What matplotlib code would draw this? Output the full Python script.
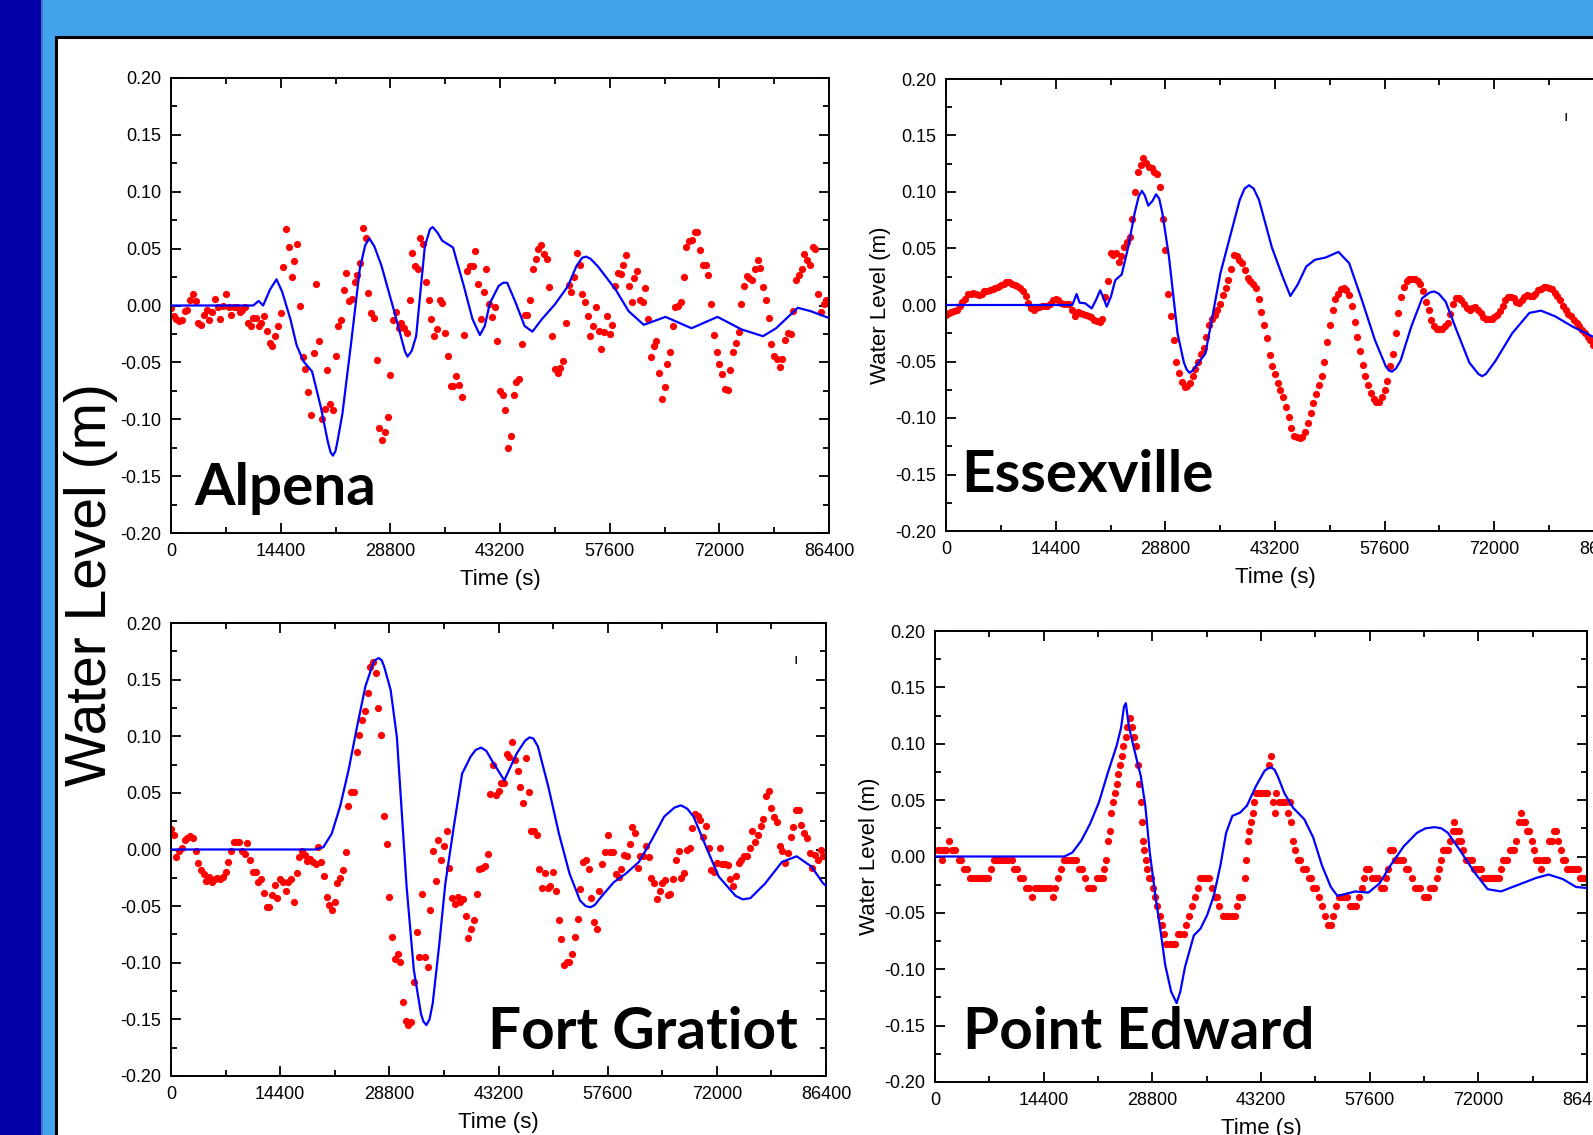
import numpy as np
import matplotlib
matplotlib.use('Agg')
import matplotlib.pyplot as plt
from matplotlib.patches import Rectangle
from matplotlib.ticker import MultipleLocator, FormatStrFormatter

W, H = 1593, 1135

# ---------------- data (water level in m, time in s) ----------------
# Alpena: observed every 6 min
alpena_obs = [
    -0.002, -0.009, -0.012, -0.014, -0.013, -0.005, -0.004, 0.005, 0.010, 0.004,
    -0.015, -0.017, -0.008, -0.004, -0.013, -0.006, 0.006, -0.001, -0.012, 0.000,
    0.010, -0.001, -0.008, -0.001, -0.001, -0.006, -0.004, -0.001, -0.015, -0.018,
    -0.011, -0.011, -0.018, -0.015, -0.009, -0.022, -0.033, -0.036, -0.027, -0.018,
    -0.007, 0.034, 0.067, 0.051, 0.025, 0.039, 0.054, 0.000, -0.045, -0.056,
    -0.076, -0.096, -0.042, 0.019, -0.031, -0.100, -0.091, -0.057, -0.087, -0.092,
    -0.044, -0.018, -0.013, 0.014, 0.029, 0.004, 0.006, 0.021, 0.027, 0.037,
    0.068, 0.059, 0.011, -0.007, -0.011, -0.048, -0.108, -0.118, -0.111, -0.098,
    -0.061, -0.013, -0.006, -0.020, -0.015, -0.020, -0.024, 0.005, 0.046, 0.035,
    0.032, 0.059, 0.054, 0.021, 0.005, -0.012, -0.027, -0.021, 0.005, 0.002,
    -0.024, -0.044, -0.071, -0.071, -0.062, -0.070, -0.080, -0.026, 0.030, 0.035,
    0.035, 0.048, 0.019, -0.012, 0.012, 0.032, 0.001, -0.010, -0.001, -0.031,
    -0.075, -0.079, -0.092, -0.125, -0.115, -0.079, -0.067, -0.065, -0.034, -0.008,
    -0.008, 0.005, 0.032, 0.041, 0.050, 0.053, 0.045, 0.041, 0.016, -0.027,
    -0.056, -0.059, -0.055, -0.049, -0.015, 0.018, 0.012, 0.025, 0.046, 0.036,
    0.010, 0.003, -0.009, -0.027, -0.018, -0.001, -0.022, -0.038, -0.023, -0.009,
    -0.025, -0.017, 0.017, 0.029, 0.028, 0.036, 0.044, 0.017, 0.003, 0.024,
    0.030, 0.005, 0.003, 0.015, -0.012, -0.045, -0.036, -0.031, -0.059, -0.082,
    -0.072, -0.051, -0.041, -0.018, -0.001, 0.000, 0.003, 0.025, 0.051, 0.057,
    0.058, 0.065, 0.065, 0.049, 0.036, 0.036, 0.027, 0.001, -0.026, -0.041,
    -0.051, -0.060, -0.073, -0.074, -0.057, -0.041, -0.033, -0.023, 0.001, 0.017,
    0.026, 0.024, 0.022, 0.032, 0.040, 0.033, 0.016, 0.005, -0.011, -0.034,
    -0.044, -0.047, -0.054, -0.047, -0.030, -0.024, -0.025, -0.005, 0.022, 0.027,
    0.032, 0.045, 0.040, 0.036, 0.051, 0.050, 0.010, -0.006, 0.001, 0.005,
]
alpena_mod_t = [0, 10800, 11500, 12100, 13000, 13855, 14600, 15677, 16500, 17385,
                18525, 19663, 20600, 20950, 21257, 21600, 21900, 22510, 23650, 24787,
                25500, 26040, 26700, 27635, 29343, 30300, 30700, 31051, 31600, 32190,
                33330, 34000, 34354, 35000, 35606, 37030, 38453, 39592, 40560, 41200,
                41870, 43008, 43600, 44147, 45286, 46425, 47450, 48700, 50410, 52120,
                53260, 54000, 54510, 55100, 56100, 58380, 60090, 62080, 64930, 68350,
                71760, 74900, 77740, 79450, 82300, 84000, 86400]
alpena_mod = [0.0, 0.0, 0.004, 0.0, 0.014, 0.023, 0.012, -0.012, -0.035, -0.049,
              -0.058, -0.089, -0.120, -0.129, -0.132, -0.128, -0.118, -0.095, -0.033, 0.032,
              0.053, 0.059, 0.052, 0.035, -0.006, -0.030, -0.040, -0.045, -0.040, -0.027,
              0.052, 0.067, 0.069, 0.064, 0.057, 0.051, 0.017, -0.012, -0.026, -0.018,
              0.002, 0.017, 0.020, 0.020, 0.002, -0.018, -0.023, -0.012, 0.001, 0.017,
              0.035, 0.042, 0.043, 0.041, 0.034, 0.014, -0.005, -0.017, -0.010, -0.020,
              -0.010, -0.021, -0.027, -0.020, -0.002, -0.005, -0.011]

# Essexville: observed every 6 min
essex_obs = [
    -0.009, -0.007, -0.006, -0.005, -0.004, -0.001, 0.003, 0.005, 0.010, 0.010,
    0.011, 0.010, 0.009, 0.010, 0.012, 0.012, 0.013, 0.014, 0.015, 0.016,
    0.018, 0.019, 0.020, 0.020, 0.019, 0.018, 0.017, 0.015, 0.012, 0.008,
    0.002, -0.003, -0.004, -0.003, -0.002, -0.001, -0.001, -0.001, 0.001, 0.004,
    0.005, 0.004, 0.002, 0.001, 0.001, 0.001, -0.004, -0.010, -0.006, -0.007,
    -0.008, -0.009, -0.010, -0.011, -0.013, -0.014, -0.015, -0.012, 0.007, 0.021,
    0.046, 0.044, 0.046, 0.038, 0.043, 0.051, 0.056, 0.060, 0.076, 0.100,
    0.118, 0.124, 0.130, 0.126, 0.122, 0.121, 0.118, 0.116, 0.104, 0.076,
    0.049, 0.010, -0.010, -0.031, -0.050, -0.060, -0.068, -0.073, -0.072, -0.069,
    -0.063, -0.057, -0.050, -0.043, -0.038, -0.028, -0.018, -0.012, -0.009, -0.004,
    0.001, 0.009, 0.015, 0.022, 0.032, 0.044, 0.043, 0.040, 0.037, 0.031,
    0.024, 0.021, 0.019, 0.015, 0.005, -0.006, -0.018, -0.029, -0.044, -0.054,
    -0.061, -0.069, -0.075, -0.081, -0.090, -0.099, -0.109, -0.116, -0.117, -0.118,
    -0.117, -0.112, -0.104, -0.096, -0.087, -0.079, -0.071, -0.063, -0.050, -0.033,
    -0.018, -0.004, 0.005, 0.010, 0.014, 0.015, 0.013, 0.009, -0.001, -0.015,
    -0.028, -0.041, -0.053, -0.063, -0.071, -0.078, -0.083, -0.086, -0.086, -0.081,
    -0.075, -0.067, -0.054, -0.043, -0.025, -0.007, 0.007, 0.016, 0.021, 0.023,
    0.023, 0.023, 0.021, 0.019, 0.012, 0.003, -0.004, -0.013, -0.019, -0.021,
    -0.021, -0.021, -0.019, -0.016, -0.008, 0.001, 0.006, 0.006, 0.004, 0.001,
    -0.003, -0.004, -0.003, -0.002, -0.004, -0.007, -0.011, -0.012, -0.012, -0.012,
    -0.011, -0.009, -0.005, -0.001, 0.004, 0.007, 0.007, 0.006, 0.003, 0.002,
    0.004, 0.007, 0.009, 0.008, 0.008, 0.010, 0.013, 0.014, 0.016, 0.016,
    0.015, 0.014, 0.011, 0.008, 0.004, -0.001, -0.004, -0.008, -0.010, -0.013,
    -0.016, -0.019, -0.022, -0.025, -0.028, -0.031, -0.035, -0.038, -0.041, -0.044,
]
essex_mod_t = [0, 16590, 17150, 17548, 18280, 19126, 19690, 20250, 20700, 21100,
               21660, 22225, 23070, 23915, 24760, 25300, 25720, 26100, 26565, 27100,
               27580, 28000, 28420, 29270, 30400, 31240, 31600, 31970, 32400, 32930,
               34060, 34900, 36030, 37160, 38570, 39200, 39800, 40400, 41100, 42790,
               44200, 45215, 46175, 47300, 48430, 49840, 51530, 52940, 54630, 56320,
               57730, 58150, 58570, 59100, 59700, 61100, 62520, 63500, 64090, 64700,
               65610, 67020, 68720, 69900, 70400, 70900, 72100, 74350, 76600, 78120,
               79980, 82240, 84950, 86400]
essex_mod = [0.0, 0.0, 0.0097, 0.002, 0.0015, -0.003, 0.0044, 0.013, 0.006, -0.0015,
             0.0074, 0.022, 0.027, 0.051, 0.081, 0.096, 0.101, 0.097, 0.088, 0.092,
             0.098, 0.094, 0.081, 0.043, -0.025, -0.051, -0.057, -0.060, -0.058, -0.053,
             -0.043, -0.013, 0.028, 0.057, 0.093, 0.103, 0.106, 0.103, 0.093, 0.051,
             0.025, 0.008, 0.018, 0.034, 0.040, 0.042, 0.047, 0.037, 0.004, -0.031,
             -0.054, -0.058, -0.059, -0.056, -0.049, -0.019, 0.006, 0.011, 0.012, 0.010,
             0.003, -0.022, -0.051, -0.061, -0.063, -0.061, -0.050, -0.025, -0.007, -0.005,
             -0.010, -0.019, -0.028, -0.033]

# Fort Gratiot: observed every 6 min
gratiot_obs = [
    0.018, 0.013, -0.007, -0.001, 0.001, 0.008, 0.010, 0.012, 0.010, -0.001,
    -0.012, -0.018, -0.022, -0.028, -0.024, -0.029, -0.026, -0.025, -0.026, -0.024,
    -0.020, -0.011, -0.001, 0.007, 0.007, 0.007, -0.001, -0.004, 0.006, -0.009,
    -0.020, -0.020, -0.029, -0.026, -0.038, -0.051, -0.051, -0.040, -0.031, -0.043,
    -0.026, -0.029, -0.037, -0.029, -0.026, -0.046, -0.021, -0.007, -0.001, -0.005,
    -0.010, -0.008, -0.011, -0.013, 0.002, -0.011, -0.023, -0.042, -0.049, -0.053,
    -0.046, -0.030, -0.025, -0.018, -0.002, 0.038, 0.051, 0.051, 0.086, 0.101,
    0.114, 0.122, 0.138, 0.161, 0.166, 0.156, 0.125, 0.101, 0.030, 0.005,
    -0.042, -0.077, -0.097, -0.092, -0.099, -0.135, -0.151, -0.155, -0.152, -0.117,
    -0.073, -0.095, -0.039, -0.095, -0.104, -0.053, -0.001, -0.028, 0.008, -0.009,
    0.003, 0.016, -0.016, -0.043, -0.048, -0.042, -0.046, -0.044, -0.059, -0.078,
    -0.070, -0.062, -0.039, -0.017, -0.016, -0.015, -0.004, 0.049, 0.075, 0.048,
    0.052, 0.059, 0.059, 0.084, 0.082, 0.095, 0.079, 0.069, 0.055, 0.041,
    0.081, 0.051, 0.016, 0.016, 0.013, -0.017, -0.034, -0.021, -0.034, -0.032,
    -0.020, -0.037, -0.062, -0.079, -0.102, -0.099, -0.099, -0.092, -0.077, -0.061,
    -0.035, -0.011, -0.009, -0.017, -0.043, -0.064, -0.070, -0.037, -0.013, -0.002,
    0.013, -0.002, -0.002, -0.022, -0.024, -0.017, -0.005, -0.006, 0.005, 0.020,
    0.015, -0.016, -0.006, -0.006, 0.003, -0.007, -0.025, -0.030, -0.044, -0.037,
    -0.030, -0.027, -0.040, -0.039, -0.026, -0.009, -0.001, -0.025, -0.021, 0.000,
    0.001, 0.019, 0.031, 0.030, 0.026, 0.011, 0.021, 0.001, -0.018, -0.020,
    -0.012, 0.001, -0.013, -0.013, -0.014, -0.026, -0.032, -0.023, -0.012, -0.009,
    -0.006, -0.006, 0.001, 0.016, 0.007, 0.013, 0.021, 0.027, 0.047, 0.052,
    0.037, 0.029, 0.024, 0.003, -0.001, -0.012, -0.003, 0.011, 0.020, 0.035,
    0.035, 0.022, 0.015, 0.010, -0.003, -0.016, -0.005, -0.009, 0.000, -0.006,
]
gratiot_mod_t = [0, 18980, 20090, 21200, 22310, 23420, 24530, 25640, 26750, 27100,
                 27420, 27800, 28140, 28970, 29800, 30360, 31080, 32025, 32970, 33300,
                 33690, 34100, 34520, 35350, 36190, 37300, 38400, 39520, 40200, 40900,
                 41600, 42290, 43960, 45620, 46700, 47290, 47800, 48400, 49790, 51170,
                 52560, 53950, 54700, 55330, 55900, 56720, 58390, 60050, 61720, 63380,
                 65050, 66400, 67270, 68100, 68930, 70600, 72260, 74480, 75400, 76420,
                 78370, 80590, 82530, 84470, 86030, 86400]
gratiot_mod = [0.0, 0.0, 0.002, 0.014, 0.038, 0.070, 0.108, 0.144, 0.166, 0.168,
               0.169, 0.167, 0.161, 0.141, 0.099, 0.041, -0.033, -0.106, -0.145, -0.152,
               -0.155, -0.150, -0.136, -0.086, -0.030, 0.020, 0.067, 0.082, 0.088, 0.090,
               0.087, 0.079, 0.061, 0.085, 0.096, 0.099, 0.098, 0.091, 0.055, 0.014,
               -0.021, -0.045, -0.050, -0.051, -0.049, -0.042, -0.029, -0.021, -0.011, 0.008,
               0.029, 0.037, 0.039, 0.036, 0.029, 0.002, -0.024, -0.041, -0.044, -0.043,
               -0.030, -0.011, -0.006, -0.015, -0.030, -0.032]

# Point Edward: observation times in minutes, quantized levels
edward_obs_min = [
    6, 13, 16, 20, 25, 32, 38, 45, 52, 58,
    64, 71, 77, 84, 91, 97, 103, 110, 118, 123,
    130, 136, 142, 149, 155, 162, 169, 175, 181, 188,
    194, 201, 208, 214, 221, 227, 233, 240, 247, 253,
    260, 266, 272, 279, 286, 292, 299, 305, 311, 318,
    325, 331, 338, 344, 350, 357, 364, 370, 374, 377,
    381, 386, 389, 393, 397, 401, 405, 409, 413, 416,
    421, 425, 430, 436, 440, 445, 448, 451, 454, 457,
    460, 462, 465, 469, 473, 477, 481, 486, 491, 496,
    501, 505, 511, 518, 525, 530, 536, 542, 549, 555,
    562, 567, 574, 580, 586, 592, 599, 606, 611, 618,
    623, 628, 635, 642, 648, 655, 662, 666, 672, 679,
    684, 687, 691, 694, 698, 702, 705, 709, 713, 718,
    723, 728, 733, 738, 742, 747, 750, 754, 760, 767,
    774, 780, 783, 786, 791, 796, 801, 806, 813, 819,
    825, 830, 835, 842, 848, 855, 862, 867, 874, 879,
    886, 892, 899, 903, 910, 916, 923, 930, 936, 943,
    947, 952, 959, 965, 972, 979, 984, 991, 996, 1001,
    1006, 1011, 1016, 1021, 1027, 1033, 1040, 1045, 1053, 1060,
    1066, 1072, 1079, 1084, 1089, 1094, 1099, 1103, 1108, 1113,
    1118, 1123, 1128, 1133, 1138, 1143, 1147, 1150, 1154, 1157,
    1162, 1167, 1172, 1177, 1182, 1186, 1191, 1196, 1201, 1206,
    1211, 1216, 1221, 1225, 1230, 1235, 1240, 1245, 1250, 1255,
    1260, 1264, 1269, 1274, 1279, 1284, 1289, 1294, 1299, 1304,
    1308, 1313, 1318, 1323, 1328, 1333, 1338, 1343, 1347, 1352,
    1357, 1362, 1367, 1372, 1377, 1382, 1386, 1391, 1396, 1401,
    1406, 1411, 1416, 1421, 1425, 1430, 1435,
]
edward_obs = [
    0.006, 0.006, -0.003, 0.006, 0.006, 0.014, 0.006, 0.006, -0.003, -0.003,
    -0.011, -0.011, -0.019, -0.019, -0.019, -0.019, -0.019, -0.019, -0.019, -0.011,
    -0.003, -0.003, -0.003, -0.003, -0.003, -0.003, -0.003, -0.011, -0.011, -0.019,
    -0.019, -0.028, -0.028, -0.036, -0.028, -0.028, -0.028, -0.028, -0.028, -0.028,
    -0.036, -0.028, -0.019, -0.011, -0.003, -0.003, -0.003, -0.003, -0.003, -0.011,
    -0.011, -0.019, -0.028, -0.028, -0.028, -0.019, -0.019, -0.019, -0.011, -0.003,
    0.014, 0.023, 0.039, 0.048, 0.056, 0.064, 0.073, 0.081, 0.089, 0.098,
    0.106, 0.115, 0.123, 0.115, 0.106, 0.098, 0.081, 0.064, 0.048, 0.031,
    0.014, 0.006, -0.003, -0.011, -0.019, -0.019, -0.028, -0.036, -0.044, -0.053,
    -0.061, -0.069, -0.078, -0.078, -0.078, -0.078, -0.069, -0.069, -0.069, -0.061,
    -0.053, -0.044, -0.036, -0.028, -0.019, -0.019, -0.019, -0.019, -0.028, -0.036,
    -0.036, -0.044, -0.053, -0.053, -0.053, -0.053, -0.053, -0.044, -0.036, -0.036,
    -0.019, -0.003, 0.014, 0.023, 0.031, 0.039, 0.048, 0.056, 0.056, 0.056,
    0.056, 0.056, 0.056, 0.081, 0.089, 0.048, 0.039, 0.056, 0.048, 0.048,
    0.048, 0.039, 0.048, 0.031, 0.014, 0.006, -0.003, -0.003, -0.011, -0.011,
    -0.019, -0.019, -0.028, -0.028, -0.036, -0.044, -0.053, -0.061, -0.061, -0.053,
    -0.044, -0.036, -0.036, -0.036, -0.036, -0.044, -0.044, -0.044, -0.036, -0.028,
    -0.019, -0.011, -0.011, -0.019, -0.019, -0.019, -0.028, -0.028, -0.019, -0.011,
    0.006, 0.006, -0.003, -0.003, -0.003, -0.003, -0.011, -0.011, -0.019, -0.028,
    -0.028, -0.028, -0.036, -0.036, -0.036, -0.028, -0.028, -0.028, -0.019, -0.011,
    -0.003, 0.006, 0.006, 0.006, 0.014, 0.023, 0.031, 0.023, 0.014, 0.023,
    0.014, 0.006, -0.003, -0.003, -0.003, -0.003, -0.011, -0.011, -0.011, -0.011,
    -0.019, -0.019, -0.019, -0.019, -0.019, -0.019, -0.019, -0.019, -0.011, -0.003,
    -0.003, -0.003, 0.006, 0.006, 0.006, 0.014, 0.031, 0.039, 0.031, 0.031,
    0.023, 0.023, 0.014, 0.006, -0.003, -0.003, -0.011, -0.003, -0.003, -0.003,
    0.014, 0.014, 0.023, 0.023, 0.014, 0.006, -0.003, -0.003, -0.011, -0.011,
    -0.011, -0.011, -0.011, -0.011, -0.019, -0.019, -0.019,
]
edward_mod_t = [0, 17150, 18200, 19380, 20550, 21720, 22890, 24060, 24650, 25050,
                25290, 25700, 26400, 27280, 27870, 28450, 29210, 29910, 30500, 31300,
                32020, 32500, 33130, 34300, 35180, 36060, 36940, 37820, 38580, 39400,
                40450, 41330, 42500, 43670, 44100, 44550, 45000, 45430, 46310, 47480,
                48940, 50110, 51280, 52450, 53330, 54500, 55670, 57430, 58890, 60350,
                62110, 63870, 65000, 66210, 67100, 67960, 69720, 71480, 73230, 74990,
                77330, 79670, 81310, 83190, 84940, 86400]
edward_mod = [0.0, 0.0, 0.0035, 0.014, 0.029, 0.048, 0.074, 0.098, 0.114, 0.133,
              0.136, 0.115, 0.095, 0.071, 0.045, 0.004, -0.035, -0.067, -0.096, -0.120,
              -0.130, -0.120, -0.098, -0.070, -0.064, -0.052, -0.035, -0.008, 0.021, 0.036,
              0.039, 0.045, 0.062, 0.076, 0.078, 0.079, 0.077, 0.071, 0.056, 0.043,
              0.033, 0.017, -0.008, -0.027, -0.035, -0.033, -0.031, -0.032, -0.024, -0.008,
              0.009, 0.021, 0.025, 0.026, 0.025, 0.021, 0.004, -0.014, -0.029, -0.031,
              -0.025, -0.019, -0.016, -0.020, -0.027, -0.028]

SAMPLE = 360  # tide gauge interval, s

plt.rcParams['font.family'] = ['Liberation Sans', 'DejaVu Sans']
plt.rcParams['axes.unicode_minus'] = False

fig = plt.figure(figsize=(W / 100, H / 100), dpi=100)
fig.patch.set_facecolor('white')


def box(l, t, r, b):
    return [l / W, 1 - b / H, (r - l) / W, (b - t) / H]


def px_rect(l, t, r, b, **kw):
    fig.add_artist(Rectangle((l / W, 1 - b / H), (r - l) / W, (b - t) / H,
                             transform=fig.transFigure, **kw))


# slide background
px_rect(0, 0, 41, H, facecolor='#0400A8', edgecolor='none', zorder=-10)
px_rect(41, 0, 43, H, facecolor='#3A74C6', edgecolor='none', zorder=-10)
px_rect(43, 0, W, H, facecolor='#42A2EC', edgecolor='none', zorder=-10)
px_rect(56, 37, W + 20, H + 20, facecolor='white', edgecolor='black',
        linewidth=2.2, zorder=-9)

fig.text(91 / W, 1 - 585 / H, 'Water Level (m)', rotation=90, fontsize=41,
         ha='center', va='center')


def panel(pos, obs_t, obs_v, mod_t, mod_v, name, name_xy, ylabel=False):
    ax = fig.add_axes(box(*pos))
    ax.plot(obs_t, obs_v, 'o', color='#FF0000', markersize=5.2,
            markeredgewidth=0, zorder=2)
    ax.plot(mod_t, mod_v, '-', color='#0000FF', linewidth=1.6, zorder=3)
    ax.set_xlim(0, 86400)
    ax.set_ylim(-0.2, 0.2)
    ax.xaxis.set_major_locator(MultipleLocator(14400))
    ax.xaxis.set_minor_locator(MultipleLocator(7200))
    ax.yaxis.set_major_locator(MultipleLocator(0.05))
    ax.yaxis.set_minor_locator(MultipleLocator(0.025))
    ax.yaxis.set_major_formatter(FormatStrFormatter('%.2f'))
    ax.tick_params(which='both', direction='in', top=True, right=True,
                   width=1.3, labelsize=13, pad=7)
    ax.tick_params(which='major', length=7)
    ax.tick_params(which='minor', length=4)
    for s in ax.spines.values():
        s.set_linewidth(1.4)
    ax.set_xlabel('Time (s)', fontsize=16, labelpad=7)
    if ylabel:
        ax.set_ylabel('Water Level (m)', fontsize=16, labelpad=3)
    ax.text(name_xy[0], name_xy[1], name, transform=ax.transAxes,
            fontsize=42, fontweight='bold', family=['Lato', 'DejaVu Sans'],
            ha='left', va='baseline', zorder=5)
    return ax


a1 = panel((171, 78, 829, 533), np.arange(len(alpena_obs)) * SAMPLE, alpena_obs,
           alpena_mod_t, alpena_mod, 'Alpena', (0.036, 0.062))
a2 = panel((946, 79, 1604, 531), np.arange(len(essex_obs)) * SAMPLE, essex_obs,
           essex_mod_t, essex_mod, 'Essexville', (0.023, 0.086), ylabel=True)
a3 = panel((171, 623, 826, 1076), np.arange(len(gratiot_obs)) * SAMPLE, gratiot_obs,
           gratiot_mod_t, gratiot_mod, 'Fort Gratiot', (0.484, 0.060))
a4 = panel((935, 631, 1587, 1082), np.array(edward_obs_min) * 60, edward_obs,
           edward_mod_t, edward_mod, 'Point Edward', (0.043, 0.074), ylabel=True)

# leftover legend marks
a2.text(0.942, 0.916, 'ı', transform=a2.transAxes, fontsize=11, ha='center', va='center')
a3.text(0.954, 0.918, 'ı', transform=a3.transAxes, fontsize=11, ha='center', va='center')

fig.savefig('out.png', dpi=100, facecolor=fig.get_facecolor())
